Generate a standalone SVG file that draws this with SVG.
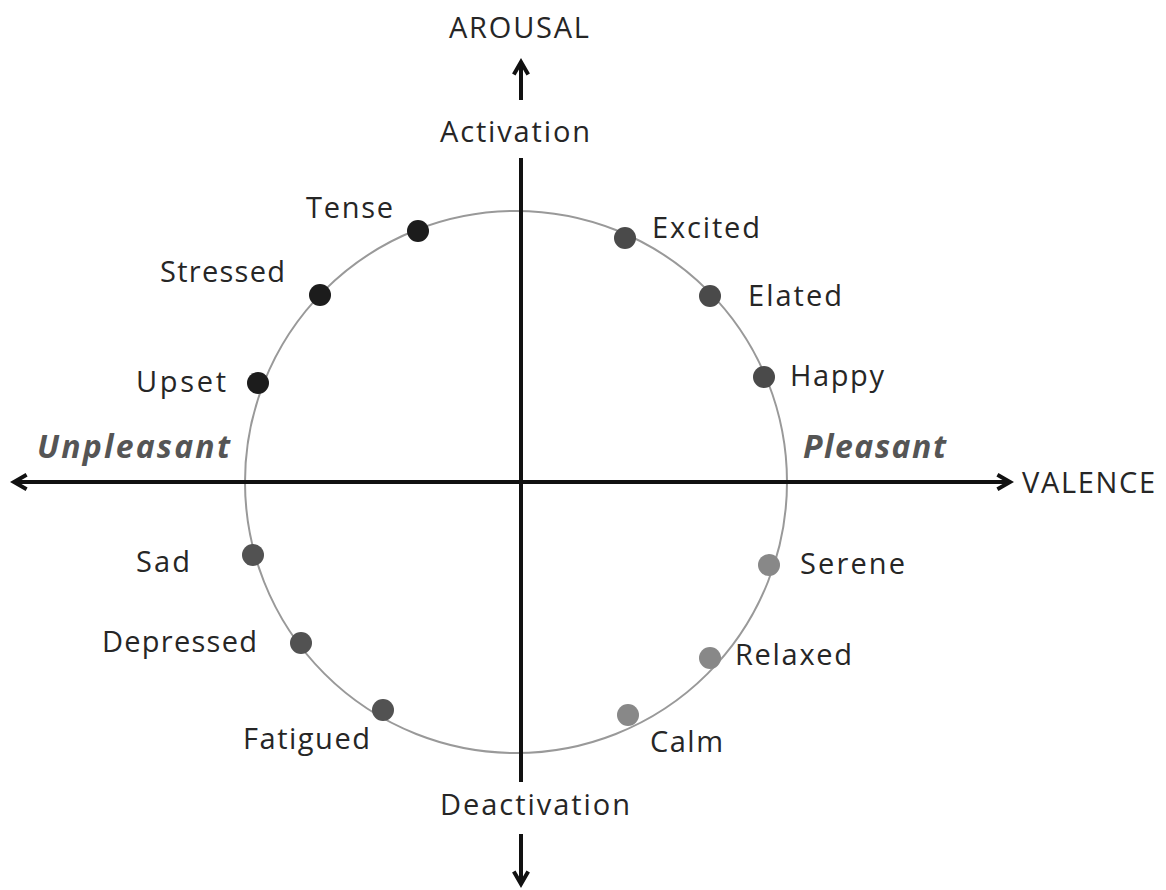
<svg xmlns="http://www.w3.org/2000/svg" width="1166" height="890" viewBox="0 0 1166 890">
<defs>
<marker id="ah" viewBox="0 0 10 10" refX="8" refY="5" markerWidth="4.5" markerHeight="4.5" orient="auto-start-reverse">
<path d="M1,1 L8,5 L1,9" fill="none" stroke="#111" stroke-width="2.2"/>
</marker>
<style>
text{font-family:"Open Sans","Liberation Sans",sans-serif;font-size:29px;fill:#262626}
.it{font-style:italic;font-weight:bold;font-size:32px;fill:#555}
.axis{stroke:#111;stroke-width:4;fill:none}
.dk{fill:#1c1c1c}.md{fill:#4a4a4a}.ml{fill:#525252}.lt{fill:#888}
</style>
</defs>
<rect width="1166" height="890" fill="#fff"/>
<circle cx="516" cy="482" r="271" fill="none" stroke="#999" stroke-width="2"/>
<g id="connectors">
<line class="axis" x1="14" y1="482" x2="1010" y2="482" marker-start="url(#ah)" marker-end="url(#ah)"/>
<line class="axis" x1="521" y1="158" x2="521" y2="782"/>
<line class="axis" x1="521" y1="100" x2="521" y2="62" marker-end="url(#ah)"/>
<line class="axis" x1="521" y1="834" x2="521" y2="884" marker-end="url(#ah)"/>
</g>
<g id="axis-labels">
<text x="519" y="38" text-anchor="middle" textLength="140">AROUSAL</text>
<text x="515" y="142" text-anchor="middle" textLength="150">Activation</text>
<text x="535" y="815" text-anchor="middle" textLength="190">Deactivation</text>
<text x="1022" y="493" textLength="133">VALENCE</text>
<text class="it" x="37" y="458" textLength="193">Unpleasant</text>
<text class="it" x="803" y="458" textLength="143">Pleasant</text>
</g>
<g id="tense"><circle class="dk" cx="418" cy="231" r="11"/><text x="306" y="218" textLength="87">Tense</text></g>
<g id="stressed"><circle class="dk" cx="320" cy="295" r="11"/><text x="160" y="282" textLength="125">Stressed</text></g>
<g id="upset"><circle class="dk" cx="258" cy="383" r="11"/><text x="136" y="392" textLength="90">Upset</text></g>
<g id="excited"><circle class="md" cx="625" cy="238" r="11"/><text x="652" y="238" textLength="108">Excited</text></g>
<g id="elated"><circle class="md" cx="710" cy="296" r="11"/><text x="748" y="306" textLength="94">Elated</text></g>
<g id="happy"><circle class="md" cx="764" cy="377" r="11"/><text x="790" y="386" textLength="94">Happy</text></g>
<g id="sad"><circle class="ml" cx="253" cy="555" r="11"/><text x="136" y="572" textLength="54">Sad</text></g>
<g id="depressed"><circle class="ml" cx="301" cy="643" r="11"/><text x="102" y="652" textLength="155">Depressed</text></g>
<g id="fatigued"><circle class="ml" cx="383" cy="710" r="11"/><text x="243" y="749" textLength="127">Fatigued</text></g>
<g id="serene"><circle class="lt" cx="769" cy="565" r="11"/><text x="800" y="574" textLength="105">Serene</text></g>
<g id="relaxed"><circle class="lt" cx="710" cy="658" r="11"/><text x="735" y="665" textLength="117">Relaxed</text></g>
<g id="calm"><circle class="lt" cx="628" cy="715" r="11"/><text x="650" y="752" textLength="73">Calm</text></g>
</svg>
